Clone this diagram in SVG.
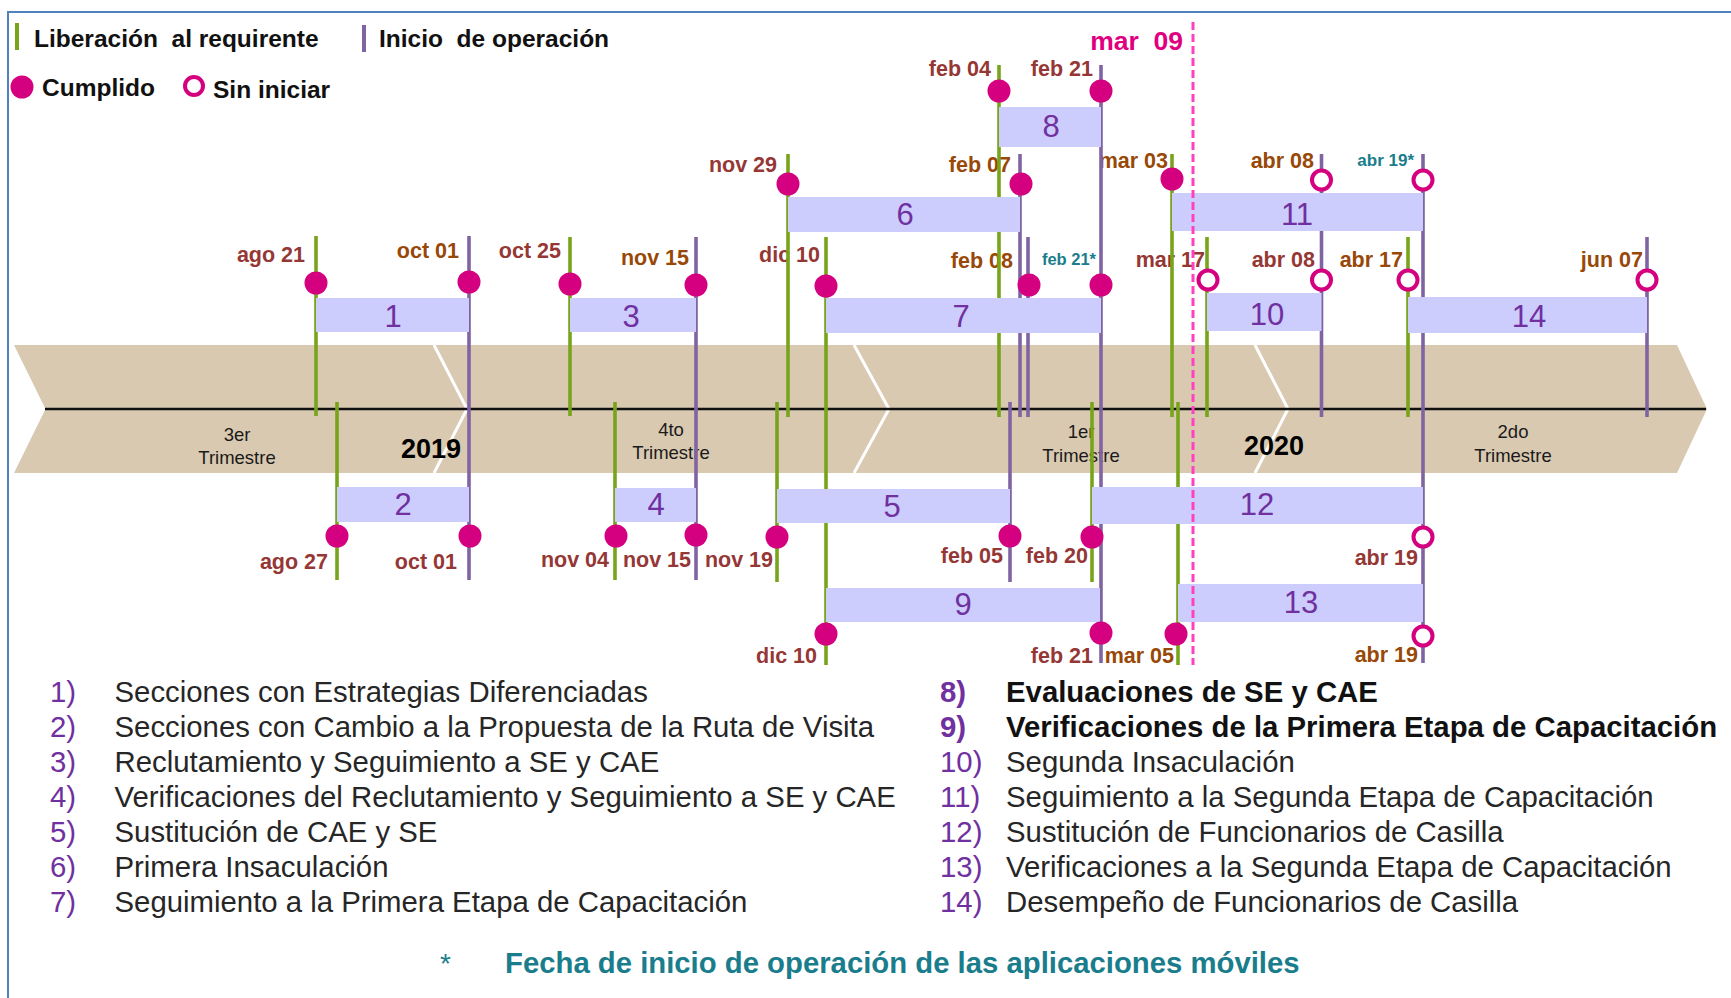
<svg xmlns="http://www.w3.org/2000/svg" width="1731" height="998" viewBox="0 0 1731 998">
<style>
text{font-family:"Liberation Sans",Arial,sans-serif}
.lg{font-size:24.5px;font-weight:bold;fill:#111}
.d{font-size:21.5px;font-weight:bold;text-anchor:end}
.r{fill:#953735}
.o{fill:#984807}
.t{fill:#1a7d8c}
.ts{font-size:16.5px;font-weight:bold;text-anchor:end;fill:#1a7d8c}
.num{font-size:31px;fill:#7030a0;text-anchor:middle}
.q{font-size:18.5px;fill:#1a1a1a;text-anchor:middle}
.yr{font-size:27px;font-weight:bold;fill:#000;text-anchor:middle}
.li{font-size:29.35px;fill:#262626}
.ln{font-size:29.35px;fill:#7030a0}
.b{font-weight:bold}
.g{stroke:#77a41b;stroke-width:3.6}
.p{stroke:#8064a2;stroke-width:3.6}
.bar{fill:#ccccfd}
.dot{fill:#d5007f}
.hol{fill:#fff;stroke:#d5007f;stroke-width:4}
</style>
<rect x="8" y="12" width="1740" height="1000" fill="#fff" stroke="#4f81bd" stroke-width="2"/>

<g id="legend">
<rect x="15" y="23" width="4" height="27" fill="#77a41b"/>
<text class="lg" x="34" y="47" xml:space="preserve">Liberación  al requirente</text>
<rect x="362" y="25" width="4" height="27" fill="#8064a2"/>
<text class="lg" x="379" y="47" xml:space="preserve">Inicio  de operación</text>
<circle cx="22" cy="87" r="11.5" fill="#d5007f"/>
<text class="lg" x="42" y="96">Cumplido</text>
<circle cx="194" cy="86" r="9" fill="#fff" stroke="#d5007f" stroke-width="4"/>
<text class="lg" x="213" y="98">Sin iniciar</text>
</g>

<g id="timeline">
<polygon points="14,345 1677,345 1707,409 1677,473 14,473 45.5,409" fill="#d9c9b1"/>
<polyline points="434,345 467,409 434,473" fill="none" stroke="#fff" stroke-width="3"/>
<polyline points="854,345 889,409 854,473" fill="none" stroke="#fff" stroke-width="3"/>
<polyline points="1255,345 1288,409 1255,473" fill="none" stroke="#fff" stroke-width="3"/>
<line x1="45" y1="409" x2="1706" y2="409" stroke="#111" stroke-width="2.5"/>
<text class="q" x="237" y="441">3er</text>
<text class="q" x="237" y="464">Trimestre</text>
<text class="yr" x="431" y="458">2019</text>
<text class="q" x="671" y="436">4to</text>
<text class="q" x="671" y="459">Trimestre</text>
<text class="q" x="1081" y="438">1er</text>
<text class="q" x="1081" y="462">Trimestre</text>
<text class="yr" x="1274" y="455">2020</text>
<text class="q" x="1513" y="438">2do</text>
<text class="q" x="1513" y="462">Trimestre</text>
</g>

<g id="date-labels">
<text class="d r" x="991" y="76">feb 04</text>
<text class="d r" x="1093" y="76">feb 21</text>
<text class="d r" x="777" y="172">nov 29</text>
<text class="d o" x="1011" y="172">feb 07</text>
<text class="d o" x="1168" y="168">mar 03</text>
<text class="d o" x="1314" y="168">abr 08</text>
<text class="ts" x="1414" y="166" style="font-size:17px">abr 19*</text>
<text class="d r" x="305" y="262">ago 21</text>
<text class="d o" x="459" y="258">oct 01</text>
<text class="d r" x="561" y="258">oct 25</text>
<text class="d o" x="689" y="265">nov 15</text>
<text class="d r" x="820" y="262">dic 10</text>
<text class="d o" x="1013" y="268">feb 08</text>
<text class="ts" x="1096" y="265">feb 21*</text>
<text class="d r" x="1205" y="267">mar 17</text>
<text class="d r" x="1315" y="267">abr 08</text>
<text class="d o" x="1403" y="267">abr 17</text>
<text class="d o" x="1643" y="267">jun 07</text>
<text class="d r" x="328" y="569">ago 27</text>
<text class="d r" x="457" y="569">oct 01</text>
<text class="d r" x="609" y="567">nov 04</text>
<text class="d r" x="691" y="567">nov 15</text>
<text class="d r" x="773" y="567">nov 19</text>
<text class="d r" x="1003" y="563">feb 05</text>
<text class="d r" x="1088" y="563">feb 20</text>
<text class="d r" x="1418" y="565">abr 19</text>
<text class="d r" x="817" y="663">dic 10</text>
<text class="d r" x="1093" y="663">feb 21</text>
<text class="d o" x="1174" y="663">mar 05</text>
<text class="d o" x="1418" y="662">abr 19</text>
</g>

<g id="connectors">
<line class="g" x1="316" y1="236" x2="316" y2="416"/>
<line class="p" x1="469" y1="236" x2="469" y2="580"/>
<line class="g" x1="570" y1="237" x2="570" y2="416"/>
<line class="p" x1="696" y1="237" x2="696" y2="580"/>
<line class="g" x1="788" y1="154" x2="788" y2="417"/>
<line class="g" x1="826" y1="237" x2="826" y2="665"/>
<line class="g" x1="999" y1="65" x2="999" y2="417"/>
<line class="p" x1="1020" y1="154" x2="1020" y2="417"/>
<line class="p" x1="1028" y1="237" x2="1028" y2="417"/>
<line class="p" x1="1101" y1="65" x2="1101" y2="663"/>
<line class="g" x1="1172" y1="154" x2="1172" y2="417"/>
<line class="g" x1="1207" y1="237" x2="1207" y2="417"/>
<line class="p" x1="1321.5" y1="154" x2="1321.5" y2="417"/>
<line class="g" x1="1408" y1="237" x2="1408" y2="417"/>
<line class="p" x1="1423" y1="154" x2="1423" y2="663"/>
<line class="p" x1="1647" y1="237" x2="1647" y2="417"/>
<line class="g" x1="337" y1="402" x2="337" y2="580"/>
<line class="g" x1="615" y1="402" x2="615" y2="580"/>
<line class="g" x1="777" y1="402" x2="777" y2="582"/>
<line class="p" x1="1010" y1="402" x2="1010" y2="582"/>
<line class="g" x1="1092" y1="402" x2="1092" y2="582"/>
<line class="g" x1="1178" y1="402" x2="1178" y2="665"/>
</g>

<g id="bar1"><rect class="bar" x="316" y="298" width="153" height="34"/><text class="num" x="393" y="327">1</text></g>
<g id="bar2"><rect class="bar" x="337" y="487" width="132" height="35"/><text class="num" x="403" y="515">2</text></g>
<g id="bar3"><rect class="bar" x="570" y="298" width="126" height="34"/><text class="num" x="631" y="327">3</text></g>
<g id="bar4"><rect class="bar" x="615" y="488" width="81" height="34"/><text class="num" x="656" y="515">4</text></g>
<g id="bar5"><rect class="bar" x="777" y="489" width="233" height="34"/><text class="num" x="892" y="517">5</text></g>
<g id="bar6"><rect class="bar" x="788" y="197" width="232" height="35"/><text class="num" x="905" y="225">6</text></g>
<g id="bar7"><rect class="bar" x="826" y="298" width="275" height="35"/><text class="num" x="961" y="327">7</text></g>
<g id="bar8"><rect class="bar" x="999" y="107" width="102" height="40"/><text class="num" x="1051" y="137">8</text></g>
<g id="bar9"><rect class="bar" x="826" y="588" width="274" height="34"/><text class="num" x="963" y="615">9</text></g>
<g id="bar10"><rect class="bar" x="1207" y="293" width="114.5" height="38"/><text class="num" x="1267" y="325">10</text></g>
<g id="bar11"><rect class="bar" x="1172" y="193" width="251" height="38"/><text class="num" x="1297" y="225">11</text></g>
<g id="bar12"><rect class="bar" x="1092" y="487" width="331" height="37"/><text class="num" x="1257" y="515">12</text></g>
<g id="bar13"><rect class="bar" x="1178" y="584" width="245" height="38"/><text class="num" x="1301" y="613">13</text></g>
<g id="bar14"><rect class="bar" x="1408" y="297" width="239" height="36"/><text class="num" x="1529" y="327">14</text></g>

<g id="dots">
<circle class="dot" cx="999" cy="91" r="11.5"/>
<circle class="dot" cx="1101" cy="91" r="11.5"/>
<circle class="dot" cx="788" cy="184" r="11.5"/>
<circle class="dot" cx="1021" cy="184" r="11.5"/>
<circle class="dot" cx="1172" cy="179" r="11.5"/>
<circle class="hol" cx="1321.5" cy="180" r="9.5"/>
<circle class="hol" cx="1423" cy="180" r="9.5"/>
<circle class="dot" cx="316" cy="283" r="11.5"/>
<circle class="dot" cx="469" cy="282" r="11.5"/>
<circle class="dot" cx="570" cy="284" r="11.5"/>
<circle class="dot" cx="696" cy="285" r="11.5"/>
<circle class="dot" cx="826" cy="286" r="11.5"/>
<circle class="dot" cx="1029" cy="285" r="11.5"/>
<circle class="dot" cx="1101" cy="285" r="11.5"/>
<circle class="hol" cx="1208" cy="280" r="9.5"/>
<circle class="hol" cx="1321.5" cy="280" r="9.5"/>
<circle class="hol" cx="1408" cy="280" r="9.5"/>
<circle class="hol" cx="1647" cy="280" r="9.5"/>
<circle class="dot" cx="337" cy="536" r="11.5"/>
<circle class="dot" cx="470" cy="536" r="11.5"/>
<circle class="dot" cx="616" cy="536" r="11.5"/>
<circle class="dot" cx="696" cy="535" r="11.5"/>
<circle class="dot" cx="777" cy="537" r="11.5"/>
<circle class="dot" cx="1010" cy="536" r="11.5"/>
<circle class="dot" cx="1092" cy="537" r="11.5"/>
<circle class="hol" cx="1423" cy="537" r="9.5"/>
<circle class="dot" cx="826" cy="634" r="11.5"/>
<circle class="dot" cx="1101" cy="633" r="11.5"/>
<circle class="dot" cx="1176" cy="634" r="11.5"/>
<circle class="hol" cx="1423" cy="636" r="9.5"/>
</g>

<g id="cutoff">
<line x1="1193" y1="22" x2="1193" y2="665" stroke="#ff40c0" stroke-width="3" stroke-dasharray="8 4"/>
<text x="1183" y="50" xml:space="preserve" style="font-size:26.5px;font-weight:bold;fill:#e0007f;text-anchor:end">mar  09</text>
</g>

<g id="list">
<text class="ln" x="50" y="702">1)</text><text class="li" x="114.5" y="702">Secciones con Estrategias Diferenciadas</text>
<text class="ln" x="50" y="737">2)</text><text class="li" x="114.5" y="737">Secciones con Cambio a la Propuesta de la Ruta de Visita</text>
<text class="ln" x="50" y="772">3)</text><text class="li" x="114.5" y="772">Reclutamiento y Seguimiento a SE y CAE</text>
<text class="ln" x="50" y="807">4)</text><text class="li" x="114.5" y="807">Verificaciones del Reclutamiento y Seguimiento a SE y CAE</text>
<text class="ln" x="50" y="842">5)</text><text class="li" x="114.5" y="842">Sustitución de CAE y SE</text>
<text class="ln" x="50" y="877">6)</text><text class="li" x="114.5" y="877">Primera Insaculación</text>
<text class="ln" x="50" y="912">7)</text><text class="li" x="114.5" y="912">Seguimiento a la Primera Etapa de Capacitación</text>
<text class="ln b" x="940" y="702">8)</text><text class="li b" x="1006" y="702" style="fill:#111">Evaluaciones de SE y CAE</text>
<text class="ln b" x="940" y="737">9)</text><text class="li b" x="1006" y="737" style="fill:#111">Verificaciones de la Primera Etapa de Capacitación</text>
<text class="ln" x="940" y="772">10)</text><text class="li" x="1006" y="772">Segunda Insaculación</text>
<text class="ln" x="940" y="807">11)</text><text class="li" x="1006" y="807">Seguimiento a la Segunda Etapa de Capacitación</text>
<text class="ln" x="940" y="842">12)</text><text class="li" x="1006" y="842">Sustitución de Funcionarios de Casilla</text>
<text class="ln" x="940" y="877">13)</text><text class="li" x="1006" y="877">Verificaciones a la Segunda Etapa de Capacitación</text>
<text class="ln" x="940" y="912">14)</text><text class="li" x="1006" y="912">Desempeño de Funcionarios de Casilla</text>
<text x="440" y="973" style="font-size:28px;fill:#1a7d8c">*</text>
<text x="505" y="973" style="font-size:29.3px;font-weight:bold;fill:#1a7d8c">Fecha de inicio de operación de las aplicaciones móviles</text>
</g>
</svg>
